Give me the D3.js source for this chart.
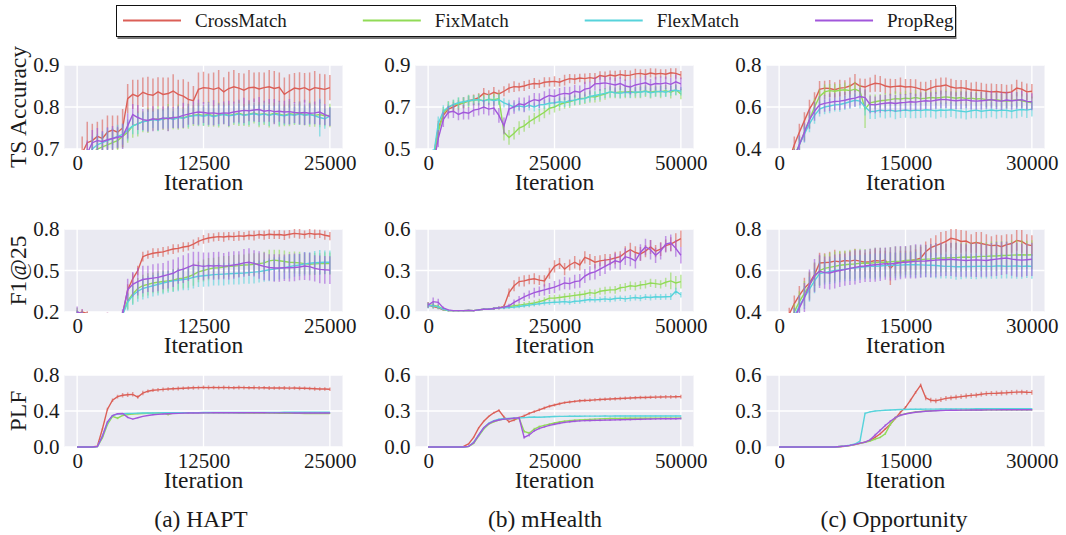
<!DOCTYPE html>
<html><head><meta charset="utf-8">
<script src="https://cdn.jsdelivr.net/npm/d3@7"></script>
<style>
body{margin:0;background:#fff;}
text{font-family:"Liberation Serif","Times New Roman",serif;fill:#1a1a1a;}
</style></head>
<body>
<script>
// ---------------- DATA ----------------
const methods = ["CrossMatch","FixMatch","FlexMatch","PropReg"];
const colors = ["#db5f57","#91db57","#57d3db","#a157db"];
const datasetNames = ["(a) HAPT","(b) mHealth","(c) Opportunity"];
const metricNames = ["TS Accuracy","F1@25","PLF"];
const iterStep = [500,1000,600];          // evaluation interval per dataset
const xTickVals = [[0,12500,25000],[0,25000,50000],[0,15000,30000]];
const yTickVals = [
  [[0.7,0.8,0.9],[0.5,0.7,0.9],[0.4,0.6,0.8]],
  [[0.2,0.5,0.8],[0.0,0.3,0.6],[0.4,0.6,0.8]],
  [[0.0,0.4,0.8],[0.0,0.3,0.6],[0.0,0.3,0.6]]
];

// HAPT – TS accuracy (CrossMatch, FixMatch, FlexMatch, PropReg)
const haptAccMean = [
 [.60,.69,.715,.72,.73,.725,.74,.745,.74,.75, .82,.83,.825,.835,.83,.828,.836,.83,.832,.838, .83,.826,.818,.815,.842,.846,.845,.842,.846,.836, .844,.848,.845,.84,.846,.847,.843,.846,.848,.844, .847,.83,.838,.845,.843,.846,.84,.846,.844,.842, .846],
 [.55,.62,.66,.69,.70,.705,.71,.715,.72,.73, .74,.755,.76,.765,.768,.77,.772,.77,.775,.772, .776,.774,.778,.78,.782,.78,.783,.779,.781,.784, .78,.782,.785,.781,.783,.786,.782,.784,.781,.785, .783,.78,.784,.782,.785,.781,.783,.78,.782,.779, .78],
 [.55,.63,.67,.70,.71,.715,.72,.725,.73,.735, .745,.755,.76,.765,.767,.77,.768,.772,.774,.77, .775,.773,.777,.779,.78,.778,.781,.777,.78,.782, .779,.781,.783,.78,.782,.784,.781,.783,.78,.783, .781,.779,.782,.78,.783,.78,.782,.779,.775,.772, .778],
 [.56,.64,.69,.715,.72,.718,.722,.725,.728,.73, .755,.782,.775,.77,.768,.772,.77,.774,.772,.775, .776,.78,.783,.786,.788,.787,.785,.786,.784,.786, .785,.788,.79,.792,.791,.793,.794,.79,.792,.789, .79,.788,.789,.787,.786,.787,.785,.786,.788,.782, .777]
];
const haptAccErr = [
 [.03,.04,.05,.04,.035,.045,.04,.035,.04,.045, .035,.035,.04,.035,.042,.04,.035,.04,.038,.04, .035,.04,.042,.035,.04,.038,.035,.04,.042,.035, .04,.04,.036,.04,.042,.035,.04,.036,.04,.042, .035,.04,.04,.036,.04,.035,.042,.04,.035,.036, .03],
 [.02,.03,.03,.03,.025,.03,.032,.025,.03,.028, .025,.028,.03,.025,.03,.026,.03,.025,.032,.025, .03,.026,.03,.025,.028,.025,.03,.026,.03,.025, .028,.025,.03,.026,.03,.025,.03,.027,.03,.025, .03,.026,.03,.025,.028,.025,.03,.027,.03,.025, .028],
 [.02,.03,.03,.03,.025,.025,.03,.025,.028,.025, .025,.02,.025,.022,.025,.02,.025,.022,.025,.02, .025,.022,.025,.02,.024,.022,.025,.02,.025,.022, .025,.02,.024,.022,.025,.02,.025,.022,.025,.02, .025,.022,.024,.02,.025,.022,.025,.02,.045,.024, .022],
 [.02,.03,.03,.03,.03,.025,.03,.03,.025,.03, .03,.025,.03,.025,.027,.03,.025,.027,.03,.025, .027,.03,.025,.027,.03,.025,.027,.03,.025,.027, .03,.025,.027,.03,.025,.027,.03,.025,.027,.03, .025,.027,.03,.025,.027,.03,.025,.027,.03,.025, .022]
];

// mHealth – TS accuracy
const mhealthAccMean = [
 [.30,.45,.60,.66,.69,.70,.712,.72,.73,.735, .745,.765,.758,.77,.762,.775,.79,.797,.795,.80, .808,.812,.81,.818,.82,.822,.818,.828,.835,.832, .838,.835,.84,.836,.85,.845,.852,.848,.855,.85, .852,.858,.86,.855,.862,.857,.86,.856,.863,.86, .852],
 [.30,.44,.58,.67,.70,.71,.715,.72,.728,.732, .735,.73,.737,.735,.74,.58,.555,.575,.60,.61, .63,.645,.66,.675,.694,.70,.712,.72,.725,.733, .74,.742,.75,.748,.755,.762,.772,.768,.772,.77, .774,.768,.772,.776,.77,.775,.772,.778,.77,.782, .762],
 [.30,.46,.62,.68,.70,.712,.72,.725,.73,.733, .735,.728,.736,.73,.735,.72,.71,.70,.705,.70, .708,.70,.71,.712,.718,.72,.725,.722,.73,.733, .738,.74,.75,.755,.76,.765,.772,.768,.765,.77, .768,.772,.77,.775,.768,.772,.775,.77,.778,.78, .775],
 [.28,.42,.55,.64,.675,.68,.665,.675,.67,.685, .69,.70,.69,.695,.66,.61,.69,.70,.715,.71, .725,.735,.73,.745,.755,.75,.76,.765,.762,.775, .77,.785,.79,.81,.812,.815,.81,.805,.812,.80, .795,.805,.81,.815,.805,.812,.81,.815,.808,.82, .81]
];
const mhealthAccErr = [
 [.03,.04,.035,.028,.022,.025,.02,.026,.022,.025, .02,.026,.022,.025,.02,.024,.022,.026,.02,.024, .022,.026,.02,.024,.022,.025,.02,.026,.022,.024, .02,.025,.022,.026,.02,.024,.022,.025,.02,.026, .022,.024,.02,.025,.022,.026,.02,.024,.022,.025, .02],
 [.03,.04,.035,.03,.028,.025,.03,.026,.03,.025, .028,.03,.025,.03,.028,.04,.035,.03,.032,.028, .03,.027,.03,.028,.03,.026,.03,.028,.03,.026, .03,.028,.03,.026,.03,.028,.03,.026,.03,.028, .03,.026,.03,.028,.03,.026,.03,.028,.03,.026, .025],
 [.03,.04,.035,.028,.025,.022,.025,.022,.026,.022, .025,.021,.025,.02,.026,.022,.024,.022,.025,.021, .025,.022,.026,.022,.024,.021,.025,.022,.026,.022, .025,.021,.024,.022,.026,.022,.025,.021,.024,.022, .026,.022,.025,.021,.024,.022,.026,.022,.025,.024, .02],
 [.03,.04,.04,.035,.03,.032,.028,.035,.03,.032, .03,.035,.03,.032,.035,.04,.03,.032,.03,.035, .03,.032,.035,.03,.032,.035,.03,.032,.035,.03, .032,.035,.03,.032,.035,.03,.032,.035,.03,.032, .035,.03,.032,.035,.03,.032,.035,.03,.032,.035, .03]
];

// Opportunity – TS accuracy
const oppAccMean = [
 [.20,.28,.35,.42,.48,.535,.59,.63,.684,.69, .688,.682,.69,.692,.70,.715,.70,.695,.705,.713, .71,.70,.695,.698,.70,.695,.697,.692,.685,.68, .69,.698,.70,.705,.695,.69,.692,.688,.682,.68, .678,.675,.672,.674,.67,.668,.672,.69,.685,.672, .675],
 [.18,.25,.31,.37,.42,.48,.54,.60,.65,.672, .678,.675,.68,.682,.678,.685,.675,.59,.62,.625, .63,.632,.635,.64,.638,.642,.64,.645,.64,.642, .645,.643,.645,.648,.645,.642,.645,.64,.642,.638, .64,.635,.632,.635,.63,.628,.63,.635,.63,.625, .62],
 [.18,.24,.30,.36,.42,.47,.52,.56,.59,.60, .605,.61,.612,.618,.625,.632,.628,.60,.578,.58, .585,.582,.585,.58,.583,.586,.582,.585,.583,.587, .585,.582,.586,.584,.587,.583,.58,.577,.582,.585, .58,.583,.586,.582,.585,.584,.58,.585,.588,.585, .59],
 [.18,.24,.30,.36,.42,.48,.54,.58,.61,.617, .622,.626,.628,.632,.638,.642,.65,.645,.612,.61, .615,.618,.62,.617,.62,.622,.625,.623,.627,.63, .628,.632,.636,.635,.632,.63,.632,.634,.63,.628, .63,.632,.635,.63,.628,.633,.63,.632,.635,.627, .625]
];
const oppAccErr = [
 [.02,.03,.035,.04,.04,.04,.045,.04,.04,.035, .04,.036,.04,.035,.04,.042,.036,.04,.035,.04, .038,.036,.04,.035,.04,.038,.036,.04,.035,.04, .038,.036,.04,.035,.04,.038,.036,.04,.035,.04, .038,.036,.04,.035,.04,.038,.036,.04,.035,.04, .035],
 [.02,.03,.035,.035,.04,.04,.04,.04,.035,.035, .032,.035,.03,.035,.032,.035,.03,.09,.04,.035, .032,.035,.03,.035,.032,.035,.03,.035,.032,.035, .03,.035,.032,.035,.03,.035,.032,.035,.03,.035, .032,.035,.03,.035,.032,.035,.03,.035,.032,.035, .03],
 [.02,.03,.035,.035,.04,.04,.04,.04,.035,.035, .035,.032,.035,.032,.035,.032,.035,.04,.035,.037, .035,.037,.035,.038,.035,.037,.035,.038,.035,.037, .035,.038,.035,.037,.035,.038,.035,.037,.035,.038, .035,.037,.035,.038,.035,.037,.035,.038,.035,.037, .035],
 [.02,.03,.04,.04,.045,.045,.045,.045,.042,.04, .042,.04,.042,.04,.042,.04,.042,.04,.042,.04, .042,.04,.042,.04,.042,.04,.042,.04,.042,.04, .042,.04,.042,.04,.042,.04,.042,.04,.042,.04, .042,.04,.042,.04,.042,.04,.042,.04,.042,.04, .04]
];

// HAPT – F1@25
const haptF1Mean = [
 [.19,.2,.19,.18,.175,.18,.185,.18,.175,.18, .36,.44,.50,.60,.615,.625,.63,.635,.645,.655, .66,.67,.675,.69,.71,.725,.735,.74,.745,.742, .748,.745,.75,.748,.755,.752,.76,.755,.762,.758, .76,.755,.762,.768,.765,.76,.768,.762,.765,.755, .748],
 [.2,.19,.185,.18,.175,.18,.18,.175,.18,.185, .28,.33,.37,.39,.40,.41,.415,.42,.425,.43, .44,.445,.455,.47,.49,.50,.51,.518,.52,.525, .53,.532,.535,.54,.542,.545,.55,.555,.57,.575, .57,.565,.56,.558,.555,.55,.545,.548,.55,.552, .55],
 [.19,.18,.18,.175,.17,.175,.18,.175,.17,.18, .27,.32,.35,.37,.38,.39,.40,.41,.418,.425, .43,.435,.44,.45,.458,.462,.466,.47,.472,.474, .476,.478,.48,.482,.485,.488,.492,.498,.505,.51, .515,.52,.528,.535,.54,.548,.552,.556,.558,.56, .56],
 [.2,.19,.18,.18,.175,.18,.185,.18,.175,.19, .36,.40,.42,.435,.44,.445,.45,.46,.47,.48, .50,.51,.525,.54,.535,.53,.535,.533,.535,.532, .535,.54,.545,.555,.56,.552,.54,.53,.522,.518, .518,.52,.52,.522,.525,.532,.528,.515,.508,.505, .503]
];
const haptF1Err = [
 [.02,.02,.015,.01,.01,.01,.01,.01,.01,.02, .04,.04,.035,.035,.03,.035,.03,.035,.03,.035, .03,.035,.03,.035,.03,.032,.035,.03,.032,.035, .03,.032,.035,.03,.032,.035,.03,.032,.035,.03, .032,.035,.03,.032,.035,.03,.032,.035,.03,.032, .03],
 [.03,.02,.01,.01,.01,.01,.01,.01,.01,.02, .06,.07,.075,.08,.08,.075,.08,.08,.075,.08, .08,.075,.08,.08,.075,.08,.08,.075,.08,.08, .075,.08,.08,.075,.08,.08,.075,.08,.08,.075, .08,.08,.075,.08,.08,.075,.08,.08,.075,.08, .08],
 [.02,.015,.01,.01,.01,.01,.01,.01,.01,.02, .06,.07,.075,.08,.08,.078,.08,.082,.078,.08, .08,.078,.082,.08,.078,.08,.082,.078,.08,.082, .078,.08,.082,.078,.08,.082,.078,.08,.082,.085, .08,.082,.085,.08,.082,.085,.08,.085,.09,.085, .085],
 [.04,.03,.015,.01,.01,.01,.01,.01,.01,.03, .08,.09,.1,.1,.095,.1,.1,.095,.1,.1, .095,.1,.1,.095,.1,.1,.095,.1,.1,.095, .1,.1,.095,.1,.1,.095,.1,.1,.095,.1, .1,.095,.1,.1,.095,.1,.1,.095,.1,.1, .1]
];

// mHealth – F1@25
const mhealthF1Mean = [
 [.05,.04,.03,.015,.01,.01,.01,.01,.012,.01, .015,.02,.02,.025,.03,.04,.14,.19,.22,.225, .235,.24,.23,.225,.28,.33,.35,.31,.34,.36, .34,.395,.38,.36,.37,.375,.38,.39,.40,.43, .45,.43,.42,.44,.47,.44,.455,.48,.49,.51, .53],
 [.05,.05,.04,.02,.01,.01,.01,.01,.012,.01, .015,.02,.02,.025,.03,.035,.04,.045,.05,.055, .06,.065,.075,.085,.10,.10,.105,.11,.115,.12, .125,.13,.14,.135,.15,.155,.16,.16,.175,.18, .19,.185,.195,.20,.21,.205,.20,.215,.225,.21, .22],
 [.045,.045,.035,.02,.01,.01,.01,.01,.012,.01, .015,.02,.02,.025,.03,.03,.032,.035,.04,.045, .05,.055,.06,.065,.068,.07,.072,.075,.07,.078, .08,.085,.09,.088,.09,.095,.09,.098,.10,.095, .10,.105,.10,.108,.105,.11,.108,.11,.112,.15, .125],
 [.05,.075,.07,.03,.015,.01,.01,.01,.012,.01, .015,.02,.02,.025,.03,.035,.045,.07,.09,.11, .125,.14,.15,.16,.17,.18,.195,.21,.205,.22, .225,.26,.28,.29,.31,.33,.35,.37,.36,.40, .39,.37,.43,.47,.45,.41,.44,.49,.50,.46, .41]
];
const mhealthF1Err = [
 [.02,.015,.01,.005,.005,.005,.005,.005,.005,.005, .005,.005,.005,.008,.01,.015,.03,.04,.035,.04, .035,.04,.035,.04,.04,.045,.04,.045,.04,.045, .04,.045,.04,.045,.04,.045,.04,.045,.04,.045, .05,.045,.05,.045,.05,.045,.05,.045,.05,.06, .06],
 [.02,.02,.015,.01,.005,.005,.005,.005,.005,.005, .005,.005,.005,.008,.01,.01,.012,.015,.015,.018, .02,.02,.02,.022,.022,.025,.022,.025,.022,.025, .025,.025,.025,.028,.025,.028,.025,.028,.028,.03, .03,.03,.03,.03,.03,.032,.03,.032,.06,.05, .05],
 [.02,.02,.015,.01,.005,.005,.005,.005,.005,.005, .005,.005,.005,.008,.008,.01,.01,.012,.012,.015, .015,.015,.015,.018,.018,.018,.018,.02,.018,.02, .02,.02,.02,.02,.02,.022,.02,.022,.02,.022, .022,.022,.022,.022,.022,.022,.022,.022,.025,.025, .02],
 [.02,.03,.025,.01,.005,.005,.005,.005,.005,.005, .005,.005,.005,.008,.01,.012,.015,.02,.025,.03, .03,.035,.035,.04,.04,.045,.04,.045,.045,.05, .05,.05,.05,.055,.05,.055,.05,.055,.055,.06, .06,.055,.06,.06,.07,.055,.06,.06,.06,.06, .06]
];

// Opportunity – F1@25
const oppF1Mean = [
 [.15,.25,.39,.44,.48,.515,.54,.58,.636,.638, .64,.645,.642,.648,.645,.65,.645,.64,.642,.648, .645,.65,.61,.635,.64,.645,.648,.652,.66,.69, .71,.72,.73,.74,.755,.75,.74,.742,.73,.735, .73,.725,.72,.722,.715,.725,.73,.745,.74,.725, .72],
 [.15,.25,.34,.40,.45,.49,.53,.57,.60,.61, .615,.62,.625,.628,.63,.632,.635,.636,.635,.638, .64,.64,.642,.644,.645,.648,.65,.65,.652,.655, .656,.658,.66,.66,.662,.662,.664,.665,.664,.666, .668,.668,.67,.67,.672,.672,.674,.675,.676,.675, .676],
 [.15,.24,.32,.38,.43,.47,.51,.55,.585,.59, .595,.60,.603,.606,.61,.612,.615,.618,.62,.62, .622,.624,.625,.625,.626,.628,.628,.628,.627,.626, .625,.624,.622,.62,.62,.618,.618,.62,.619,.62, .621,.62,.62,.622,.622,.62,.621,.622,.62,.622, .62],
 [.15,.24,.32,.37,.42,.47,.53,.575,.596,.59, .588,.595,.60,.604,.61,.615,.62,.622,.625,.628, .63,.633,.632,.635,.638,.64,.642,.644,.645,.646, .648,.65,.652,.652,.654,.652,.65,.648,.65,.651, .65,.648,.652,.655,.658,.66,.655,.652,.65,.652, .654]
];
const oppF1Err = [
 [.01,.02,.03,.04,.045,.05,.05,.055,.05,.045, .05,.055,.05,.045,.05,.055,.05,.045,.05,.055, .05,.045,.08,.05,.055,.05,.045,.05,.055,.05, .045,.05,.055,.05,.045,.05,.055,.05,.045,.05, .055,.05,.045,.05,.055,.05,.045,.05,.055,.05, .05],
 [.01,.02,.03,.04,.05,.06,.065,.07,.07,.068, .07,.072,.07,.068,.07,.072,.07,.068,.07,.072, .07,.068,.07,.072,.07,.068,.07,.072,.07,.068, .07,.072,.07,.068,.07,.072,.07,.068,.07,.072, .07,.068,.07,.072,.07,.068,.07,.072,.07,.068, .07],
 [.01,.02,.03,.04,.05,.055,.06,.06,.06,.058, .06,.062,.06,.058,.06,.062,.06,.058,.06,.062, .06,.058,.06,.062,.06,.058,.06,.062,.06,.058, .06,.062,.06,.058,.06,.062,.06,.058,.06,.062, .06,.058,.06,.062,.06,.058,.06,.062,.06,.058, .06],
 [.01,.02,.04,.05,.06,.07,.075,.08,.08,.078, .08,.082,.08,.078,.08,.082,.08,.078,.08,.082, .08,.078,.08,.082,.08,.078,.08,.082,.08,.078, .08,.082,.08,.078,.08,.082,.08,.078,.08,.082, .08,.078,.08,.082,.08,.078,.08,.082,.08,.078, .08]
];

// HAPT – PLF
const haptPlfMean = [
 [0,0,0,0,.01,.2,.42,.52,.56,.575, .58,.585,.555,.60,.62,.63,.635,.64,.645,.648, .65,.652,.655,.658,.66,.662,.66,.661,.66,.662, .66,.659,.661,.66,.658,.66,.657,.658,.656,.655, .656,.655,.654,.655,.653,.652,.65,.648,.645,.645, .642],
 [0,0,0,0,.005,.1,.25,.34,.32,.35, .36,.365,.37,.372,.375,.376,.378,.378,.36,.378, .378,.379,.379,.38,.38,.38,.38,.379,.38,.38, .379,.38,.378,.379,.378,.377,.378,.376,.377,.376, .375,.376,.374,.375,.374,.373,.374,.373,.372,.373, .372],
 [0,0,0,0,.005,.12,.27,.35,.365,.37, .372,.374,.376,.377,.378,.378,.379,.38,.38,.38, .381,.381,.382,.382,.382,.383,.383,.383,.383,.384, .384,.384,.384,.384,.385,.385,.385,.385,.385,.385, .385,.386,.386,.386,.386,.386,.386,.386,.386,.386, .386],
 [0,0,0,0,.005,.12,.28,.35,.37,.372, .33,.31,.325,.34,.35,.358,.362,.366,.37,.372, .374,.376,.377,.378,.378,.379,.379,.38,.38,.38, .38,.38,.38,.38,.38,.38,.38,.38,.379,.379, .379,.379,.379,.378,.378,.378,.378,.378,.378,.378, .378]
];
const haptPlfErr = [
 [0,0,0,0,.005,.01,.015,.02,.02,.025, .025,.025,.02,.025,.02,.02,.02,.022,.02,.02, .022,.02,.02,.022,.02,.02,.022,.02,.02,.022, .02,.02,.022,.02,.02,.022,.02,.02,.022,.02, .02,.022,.02,.02,.022,.02,.02,.022,.02,.02, .02],
 [0,0,0,0,.002,.005,.008,.01,.012,.008, .006,.005,.005,.004,.004,.004,.004,.004,.01,.004, .004,.004,.004,.004,.004,.004,.004,.004,.004,.004, .004,.004,.004,.004,.004,.004,.004,.004,.004,.004, .004,.004,.004,.004,.004,.004,.004,.004,.004,.004, .004],
 [0,0,0,0,.002,.005,.006,.005,.004,.004, .004,.004,.004,.004,.004,.004,.004,.004,.004,.004, .004,.004,.004,.004,.004,.004,.004,.004,.004,.004, .004,.004,.004,.004,.004,.004,.004,.004,.004,.004, .004,.004,.004,.004,.004,.004,.004,.004,.004,.004, .004],
 [0,0,0,0,.002,.005,.008,.006,.005,.005, .01,.008,.006,.005,.005,.004,.004,.004,.004,.004, .004,.004,.004,.004,.004,.004,.004,.004,.004,.004, .004,.004,.004,.004,.004,.004,.004,.004,.004,.004, .004,.004,.004,.004,.004,.004,.004,.004,.004,.004, .004]
];

// mHealth – PLF
const mhealthPlfMean = [
 [0,0,0,0,0,0,0,.005,.025,.08, .16,.215,.255,.285,.305,.25,.21,.225,.245,.26, .28,.295,.31,.325,.34,.35,.36,.37,.375,.38, .385,.388,.39,.393,.396,.398,.40,.402,.404,.406, .408,.41,.412,.413,.415,.416,.417,.418,.418,.419, .42],
 [0,0,0,0,0,0,0,0,.003,.03, .09,.15,.19,.21,.225,.232,.236,.238,.24,.13, .115,.15,.17,.18,.19,.20,.208,.215,.22,.223, .226,.228,.23,.232,.234,.236,.237,.238,.238,.239, .239,.24,.24,.24,.24,.24,.24,.24,.24,.24, .24],
 [0,0,0,0,0,0,0,0,.005,.04, .10,.16,.20,.22,.232,.237,.238,.24,.242,.245, .248,.25,.248,.25,.252,.254,.255,.255,.256,.256, .256,.257,.257,.257,.257,.258,.257,.258,.258,.258, .258,.258,.258,.258,.258,.258,.258,.258,.258,.258, .258],
 [0,0,0,0,0,0,0,0,.005,.035, .10,.16,.195,.215,.225,.232,.236,.24,.243,.08, .10,.135,.155,.168,.18,.19,.198,.205,.21,.214, .218,.22,.221,.222,.223,.224,.225,.226,.227,.228, .229,.23,.231,.232,.233,.234,.235,.235,.236,.236, .237]
];
const mhealthPlfErr = [
 [0,0,0,0,0,0,0,.002,.004,.006, .006,.006,.006,.008,.01,.01,.01,.01,.01,.01, .012,.012,.012,.012,.012,.012,.012,.012,.012,.012, .014,.014,.014,.014,.014,.014,.014,.014,.014,.014, .015,.015,.015,.015,.015,.015,.015,.015,.015,.015, .015],
 [0,0,0,0,0,0,0,0,.002,.004, .005,.005,.005,.005,.005,.005,.005,.005,.006,.012, .012,.01,.01,.008,.008,.008,.008,.008,.008,.008, .008,.008,.008,.008,.008,.008,.008,.008,.008,.008, .008,.008,.008,.008,.008,.008,.008,.008,.008,.008, .008],
 [0,0,0,0,0,0,0,0,.002,.004, .005,.005,.005,.005,.005,.005,.005,.005,.005,.005, .006,.006,.006,.006,.006,.006,.006,.006,.006,.006, .006,.006,.006,.006,.006,.006,.006,.006,.006,.006, .006,.006,.006,.006,.006,.006,.006,.006,.006,.006, .006],
 [0,0,0,0,0,0,0,0,.002,.004, .005,.005,.005,.005,.005,.005,.005,.005,.006,.012, .012,.01,.01,.008,.008,.008,.008,.008,.008,.008, .008,.008,.008,.008,.008,.008,.008,.008,.008,.008, .008,.008,.008,.008,.008,.008,.008,.008,.008,.008, .008]
];

// Opportunity – PLF
const oppPlfMean = [
 [0,0,0,0,0,0,0,0,0,0, 0,0,.002,.006,.012,.02,.03,.04,.055,.08, .11,.15,.19,.24,.29,.33,.39,.455,.515,.41, .39,.385,.395,.405,.41,.415,.42,.425,.43,.433, .44,.445,.447,.448,.45,.452,.455,.457,.458,.456, .455],
 [0,0,0,0,0,0,0,0,0,0, 0,0,.004,.008,.014,.022,.03,.04,.05,.065, .08,.11,.19,.245,.265,.278,.286,.292,.296,.30, .302,.304,.305,.306,.306,.307,.307,.308,.308,.308, .308,.309,.309,.309,.309,.31,.31,.31,.31,.31, .31],
 [0,0,0,0,0,0,0,0,0,0, 0,0,.004,.008,.015,.025,.05,.28,.293,.30, .303,.306,.308,.31,.312,.313,.314,.315,.315,.316, .316,.316,.317,.317,.317,.318,.318,.318,.318,.319, .319,.319,.319,.319,.32,.32,.32,.32,.32,.32, .32],
 [0,0,0,0,0,0,0,0,0,0, 0,0,.004,.008,.014,.022,.032,.04,.06,.10, .14,.18,.215,.245,.265,.275,.283,.29,.294,.298, .30,.302,.304,.305,.306,.306,.307,.307,.308,.308, .308,.309,.309,.309,.31,.31,.31,.31,.31,.31, .31]
];
const oppPlfErr = [
 [0,0,0,0,0,0,0,0,0,0, 0,0,.001,.002,.003,.004,.005,.006,.006,.008, .008,.008,.01,.01,.01,.012,.012,.012,.015,.02, .02,.02,.02,.02,.02,.02,.02,.02,.02,.02, .02,.02,.02,.02,.02,.02,.02,.02,.02,.02, .02],
 [0,0,0,0,0,0,0,0,0,0, 0,0,.001,.002,.003,.004,.005,.006,.006,.008, .008,.01,.012,.01,.008,.006,.005,.005,.005,.005, .005,.005,.005,.005,.005,.005,.005,.005,.005,.005, .005,.005,.005,.005,.005,.005,.005,.005,.005,.005, .005],
 [0,0,0,0,0,0,0,0,0,0, 0,0,.001,.002,.003,.004,.005,.008,.006,.005, .005,.005,.005,.005,.005,.005,.005,.005,.005,.005, .005,.005,.005,.005,.005,.005,.005,.005,.005,.005, .005,.005,.005,.005,.005,.005,.005,.005,.005,.005, .005],
 [0,0,0,0,0,0,0,0,0,0, 0,0,.001,.002,.003,.004,.005,.006,.008,.01, .01,.01,.01,.008,.008,.006,.005,.005,.005,.005, .005,.005,.005,.005,.005,.005,.005,.005,.005,.005, .005,.005,.005,.005,.005,.005,.005,.005,.005,.005, .005]
];

// ---------------- LAYOUT ----------------
const W = 1066, H = 535;
const colX = [64.5, 415.5, 766.5], colW = 278;
const rowY = [65, 229, 375], rowH = [84, 83, 72];
const captionX = [201, 545, 894];

const grid = [
  [[haptAccMean,haptAccErr],[mhealthAccMean,mhealthAccErr],[oppAccMean,oppAccErr]],
  [[haptF1Mean,haptF1Err],[mhealthF1Mean,mhealthF1Err],[oppF1Mean,oppF1Err]],
  [[haptPlfMean,haptPlfErr],[mhealthPlfMean,mhealthPlfErr],[oppPlfMean,oppPlfErr]]
];

const svg = d3.select("body").append("svg").attr("width", W).attr("height", H);
const defs = svg.append("defs");

for (let r = 0; r < 3; r++) {
  for (let c = 0; c < 3; c++) {
    const [means, errs] = grid[r][c];
    const xmax = xTickVals[c][2];
    const x = d3.scaleLinear().domain([-0.05 * xmax, 1.05 * xmax]).range([colX[c], colX[c] + colW]);
    const yt = yTickVals[r][c];
    const y = d3.scaleLinear().domain([yt[0], yt[2]]).range([rowY[r] + rowH[r], rowY[r]]);
    const g = svg.append("g");
    g.append("rect").attr("x", colX[c]).attr("y", rowY[r]).attr("width", colW).attr("height", rowH[r]).attr("fill", "#eaeaf2");
    // grid
    g.selectAll(".gx").data(xTickVals[c]).join("line")
      .attr("x1", d => x(d)).attr("x2", d => x(d)).attr("y1", rowY[r]).attr("y2", rowY[r] + rowH[r])
      .attr("stroke", "#fff").attr("stroke-width", 1.3);
    g.selectAll(".gy").data(yt).join("line")
      .attr("x1", colX[c]).attr("x2", colX[c] + colW).attr("y1", d => y(d)).attr("y2", d => y(d))
      .attr("stroke", "#fff").attr("stroke-width", 1.3);
    // clip
    const cid = `clip${r}${c}`;
    defs.append("clipPath").attr("id", cid).append("rect")
      .attr("x", colX[c]).attr("y", rowY[r] - 1).attr("width", colW).attr("height", rowH[r] + 2);
    const plot = g.append("g").attr("clip-path", `url(#${cid})`);
    means.forEach((ser, k) => {
      const pts = ser.map((m, i) => ({it: i * iterStep[c], m, e: errs[k][i]}));
      const sg = plot.append("g");
      sg.selectAll("line").data(pts).join("line")
        .attr("x1", d => x(d.it)).attr("x2", d => x(d.it))
        .attr("y1", d => y(d.m - d.e)).attr("y2", d => y(d.m + d.e))
        .attr("stroke", colors[k]).attr("stroke-opacity", 0.6).attr("stroke-width", 1.5);
      sg.append("path").datum(pts)
        .attr("d", d3.line().x(d => x(d.it)).y(d => y(d.m)))
        .attr("fill", "none").attr("stroke", colors[k]).attr("stroke-width", 1.4);
    });
    // axes
    const ax = g.append("g").attr("transform", `translate(0,${rowY[r] + rowH[r]})`)
      .call(d3.axisBottom(x).tickValues(xTickVals[c]).tickSize(0).tickPadding(6.5).tickFormat(d3.format("d")));
    ax.select(".domain").remove();
    ax.selectAll("text").attr("font-size", 21).attr("font-family", "Liberation Serif").attr("fill", "#1a1a1a");
    const ay = g.append("g").attr("transform", `translate(${colX[c]},0)`)
      .call(d3.axisLeft(y).tickValues(yt).tickSize(0).tickPadding(5).tickFormat(d3.format(".1f")));
    ay.select(".domain").remove();
    ay.selectAll("text").attr("font-size", 21).attr("font-family", "Liberation Serif").attr("fill", "#1a1a1a");
    // x label
    g.append("text").attr("x", colX[c] + colW / 2).attr("y", rowY[r] + rowH[r] + 41)
      .attr("text-anchor", "middle").attr("font-size", 23.5).text("Iteration");
    if (c === 0) {
      g.append("text").attr("transform", `translate(26,${rowY[r] + rowH[r] / 2}) rotate(-90)`)
        .attr("text-anchor", "middle").attr("font-size", 23.5).text(metricNames[r]);
    }
  }
}
// captions
datasetNames.forEach((n, c) => {
  svg.append("text").attr("x", captionX[c]).attr("y", 527).attr("text-anchor", "middle")
    .attr("font-size", 23.5).text(n);
});

// legend
const lg = svg.append("g");
lg.append("rect").attr("x", 117.5).attr("y", 7).attr("width", 839).attr("height", 32).attr("fill", "#777");
lg.append("rect").attr("x", 116.5).attr("y", 5.5).attr("width", 839).attr("height", 31)
  .attr("fill", "#fff").attr("stroke", "#111").attr("stroke-width", 1);
let lx = 123;
methods.forEach((m, k) => {
  lg.append("line").attr("x1", lx).attr("x2", lx + 58).attr("y1", 20.5).attr("y2", 20.5)
    .attr("stroke", colors[k]).attr("stroke-width", 2);
  const t = lg.append("text").attr("x", lx + 72).attr("y", 27).attr("font-size", 19).text(m);
  lx = lx + 72 + t.node().getComputedTextLength() + 76;
});
</script>
</body></html>
